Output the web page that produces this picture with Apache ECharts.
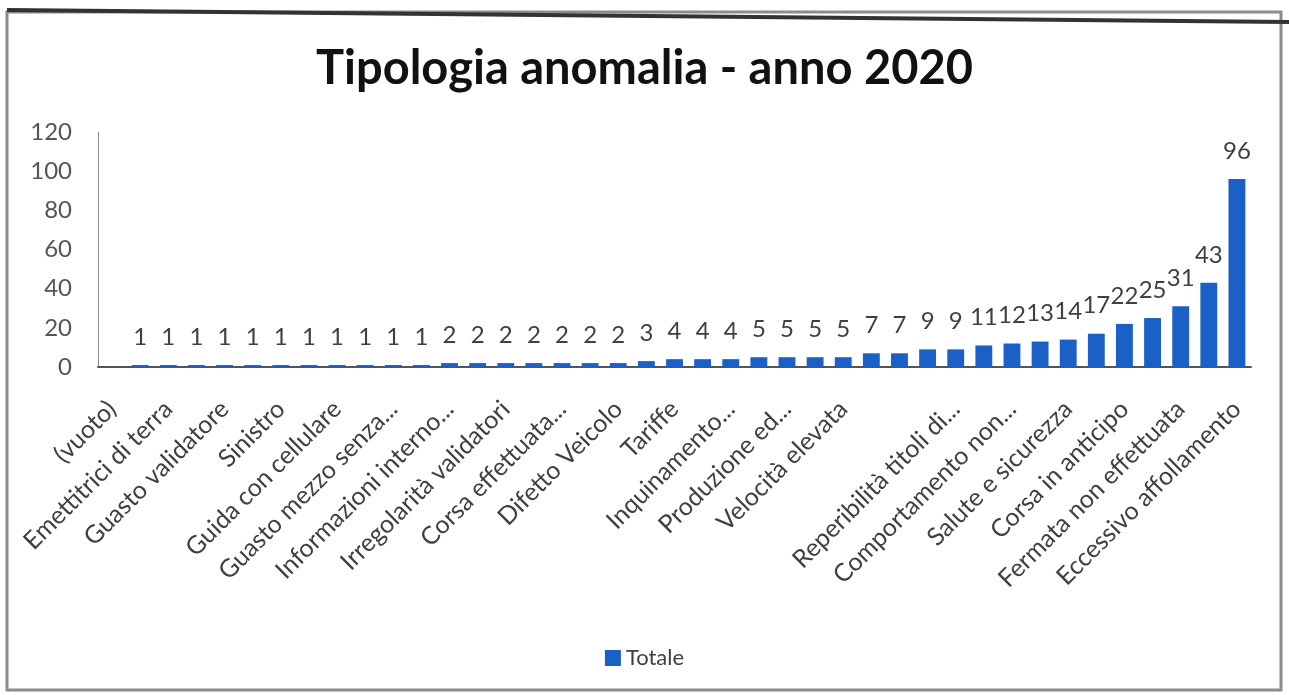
<!DOCTYPE html>
<html>
<head>
<meta charset="utf-8">
<script src="https://cdn.jsdelivr.net/npm/echarts@6/dist/echarts.min.js"></script>
<style>
  html, body { margin: 0; padding: 0; background: #ffffff; }
  #chart { width: 1289px; height: 695px; }
</style>
</head>
<body>
<div id="chart"></div>
<script>
// Categories (only every other name is legible in the reference; unreadable ones left blank)
const categories = [
  '(vuoto)', '',
  'Emettitrici di terra', '',
  'Guasto validatore', '',
  'Sinistro', '',
  'Guida con cellulare', '',
  'Guasto mezzo senza...', '',
  'Informazioni interno...', '',
  'Irregolarità validatori', '',
  'Corsa effettuata...', '',
  'Difetto Veicolo', '',
  'Tariffe', '',
  'Inquinamento...', '',
  'Produzione ed...', '',
  'Velocità elevata', '',
  '', '',
  'Reperibilità titoli di...', '',
  'Comportamento non...', '',
  'Salute e sicurezza', '',
  'Corsa in anticipo', '',
  'Fermata non effettuata', '',
  'Eccessivo affollamento'
];

const totale = [
  null,
  1, 1, 1, 1, 1, 1, 1, 1, 1, 1, 1,
  2, 2, 2, 2, 2, 2, 2,
  3,
  4, 4, 4,
  5, 5, 5, 5,
  7, 7,
  9, 9,
  11, 12, 13, 14, 17, 22, 25, 31, 43, 96
];

const yTicks = { min: 0, max: 120, interval: 20 };
const titleText = 'Tipologia anomalia - anno 2020';
const seriesName = 'Totale';

const chart = echarts.init(document.getElementById('chart'), null, { renderer: 'canvas' });

chart.setOption({
  backgroundColor: '#ffffff',
  animation: false,
  title: {
    text: titleText,
    left: 'center',
    top: 45,
    padding: 0,
    textStyle: {
      fontFamily: 'Lato',
      fontWeight: 'bold',
      fontSize: 47,
      color: '#111111'
    }
  },
  legend: {
    data: [seriesName],
    left: 'center',
    top: 642,
    icon: 'rect',
    itemWidth: 16,
    itemHeight: 16,
    itemGap: 6,
    textStyle: { fontFamily: 'Lato', fontSize: 22, color: '#404040' }
  },
  grid: {
    left: 98,
    right: 38,
    top: 132,
    bottom: 328,
    containLabel: false
  },
  xAxis: {
    type: 'category',
    data: categories,
    axisLine: { show: true, lineStyle: { color: '#555555', width: 2 } },
    axisTick: { show: false },
    axisLabel: {
      interval: 1,
      rotate: 45,
      margin: 38,
      fontFamily: 'Lato',
      fontSize: 25,
      color: '#404040'
    }
  },
  yAxis: {
    type: 'value',
    min: yTicks.min,
    max: yTicks.max,
    interval: yTicks.interval,
    axisLine: { show: true, lineStyle: { color: '#8a8a8a', width: 1 } },
    axisTick: { show: false },
    splitLine: { show: false },
    axisLabel: {
      margin: 26,
      fontFamily: 'Lato',
      fontSize: 24,
      color: '#555555'
    }
  },
  series: [{
    name: seriesName,
    type: 'bar',
    data: totale,
    barWidth: '60%',
    itemStyle: { color: '#1b60c6' },
    label: {
      show: true,
      position: 'top',
      distance: 16,
      fontFamily: 'Lato',
      fontSize: 24,
      color: '#404040'
    }
  }],
  graphic: [
    {
      type: 'rect',
      shape: { x: 7, y: 12, width: 1274, height: 678 },
      style: { fill: 'none', stroke: '#8c8c8c', lineWidth: 3 },
      silent: true
    },
    {
      type: 'line',
      shape: { x1: 7, y1: 10, x2: 1289, y2: 22 },
      style: { stroke: '#333333', lineWidth: 4 },
      silent: true
    }
  ]
});
</script>
</body>
</html>
